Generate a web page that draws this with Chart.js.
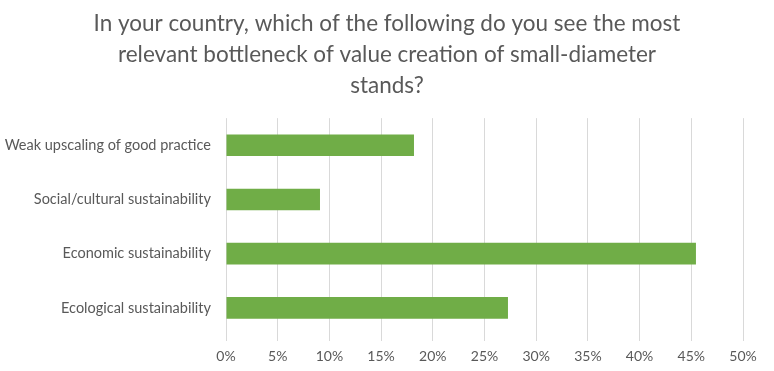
<!DOCTYPE html>
<html>
<head>
<meta charset="utf-8">
<script src="https://cdn.jsdelivr.net/npm/chart.js@4"></script>
<style>
  html, body { margin: 0; padding: 0; background: #fff; }
  #wrap { width: 774px; height: 371px; }
</style>
</head>
<body>
<div id="wrap"><canvas id="bottleneckChart" width="774" height="371"></canvas></div>
<script>
const titleLines = [
    'In your country, which of the following do you see the most',
    'relevant bottleneck of value creation of small-diameter',
    'stands?'
];
const categories = [
    'Weak upscaling of good practice',
    'Social/cultural sustainability',
    'Economic sustainability',
    'Ecological sustainability'
];
const shares = [18.18, 9.09, 45.45, 27.27];
const xTicks = [0, 5, 10, 15, 20, 25, 30, 35, 40, 45, 50];

const FONT = 'Lato, "Open Sans", "Liberation Sans", sans-serif';
const GREY = '#595959';

new Chart(document.getElementById('bottleneckChart'), {
    type: 'bar',
    data: {
        labels: categories,
        datasets: [{
            data: shares,
            backgroundColor: '#70ad47',
            barPercentage: 0.4,
            categoryPercentage: 1.0
        }]
    },
    options: {
        indexAxis: 'y',
        responsive: false,
        animation: false,
        layout: { padding: { left: 0, right: 0, top: 8, bottom: 0 } },
        scales: {
            x: {
                min: 0,
                max: 50,
                afterBuildTicks: (axis) => {
                    axis.ticks = xTicks.map(v => ({ value: v }));
                },
                ticks: {
                    callback: (v) => v + '%',
                    color: GREY,
                    font: { family: FONT, size: 14 },
                    padding: 7
                },
                grid: { color: '#d9d9d9', tickLength: 6, drawTicks: true },
                border: { display: false },
                afterFit: (axis) => {
                    axis.height = 36;
                    // reserve the right margin here so the title stays centred on the canvas
                    axis.paddingLeft = 0;
                    axis.paddingRight = 31;
                }
            },
            y: {
                ticks: {
                    color: GREY,
                    font: { family: FONT, size: 14.5 },
                    padding: 7
                },
                grid: { display: false },
                border: { display: false },
                afterFit: (axis) => { axis.width = 226; }
            }
        },
        plugins: {
            legend: { display: false },
            tooltip: { enabled: false },
            title: {
                display: true,
                text: titleLines,
                color: GREY,
                font: { family: FONT, size: 22.5, weight: 'normal', lineHeight: 1.38 },
                padding: { top: 0, bottom: 17 }
            }
        }
    }
});
</script>
</body>
</html>
